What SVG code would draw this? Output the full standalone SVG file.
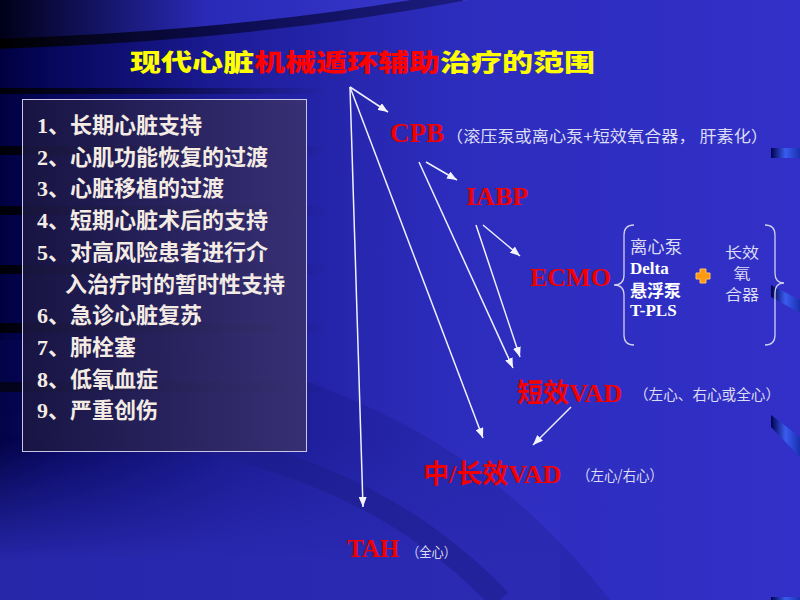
<svg xmlns="http://www.w3.org/2000/svg" width="800" height="600" viewBox="0 0 800 600">
<defs>
  <linearGradient id="bg" x1="0" y1="0" x2="800" y2="0" gradientUnits="userSpaceOnUse">
    <stop offset="0" stop-color="#000040"/>
    <stop offset="0.06" stop-color="#06065a"/>
    <stop offset="0.3" stop-color="#1e1e9c"/>
    <stop offset="0.55" stop-color="#2c2cbc"/>
    <stop offset="1" stop-color="#3230c8"/>
  </linearGradient>
  <linearGradient id="topg" x1="0" y1="0" x2="460" y2="0" gradientUnits="userSpaceOnUse">
    <stop offset="0" stop-color="#000018"/>
    <stop offset="0.45" stop-color="#2a2ab8"/>
    <stop offset="1" stop-color="#3838cc"/>
  </linearGradient>
  <linearGradient id="bandg" x1="0" y1="0" x2="460" y2="0" gradientUnits="userSpaceOnUse">
    <stop offset="0" stop-color="#000000"/>
    <stop offset="0.5" stop-color="#0c0c50"/>
    <stop offset="1" stop-color="#1c1c80"/>
  </linearGradient>
  <linearGradient id="stripeg" x1="0" y1="0" x2="330" y2="0" gradientUnits="userSpaceOnUse">
    <stop offset="0" stop-color="#000000" stop-opacity="0.85"/>
    <stop offset="1" stop-color="#000000" stop-opacity="0"/>
  </linearGradient>
  <linearGradient id="botg" x1="0" y1="440" x2="0" y2="560" gradientUnits="userSpaceOnUse">
    <stop offset="0" stop-color="#3030c4" stop-opacity="0"/>
    <stop offset="1" stop-color="#3030c4" stop-opacity="0.9"/>
  </linearGradient>
  <linearGradient id="bandb" x1="0" y1="0" x2="500" y2="0" gradientUnits="userSpaceOnUse">
    <stop offset="0" stop-color="#1c1c8a" stop-opacity="0"/>
    <stop offset="0.55" stop-color="#1c1c8a" stop-opacity="0.55"/>
    <stop offset="1" stop-color="#1c1c8a" stop-opacity="0.55"/>
  </linearGradient>
  <linearGradient id="boxg" x1="0" y1="0" x2="1" y2="0">
    <stop offset="0" stop-color="#1a1640"/>
    <stop offset="1" stop-color="#3a326e"/>
  </linearGradient>
  <linearGradient id="tabg" x1="0" y1="0" x2="1" y2="0">
    <stop offset="0" stop-color="#000050"/>
    <stop offset="0.5" stop-color="#3a5cf0"/>
    <stop offset="1" stop-color="#1a30b0"/>
  </linearGradient>
  <marker id="ah" markerUnits="userSpaceOnUse" markerWidth="11" markerHeight="8" refX="10" refY="4" orient="auto">
    <path d="M0,0 L10,4 L0,8 Z" fill="#f4f4ff"/>
  </marker>
  <style>
    .red{font-family:"Liberation Serif","Noto Sans CJK SC",serif;font-weight:bold;fill:#f20000}
    .note{font-family:"Noto Sans CJK SC",sans-serif;fill:#dcdcf4}
    .list{font-family:"Liberation Serif","Noto Sans CJK SC",serif;font-weight:bold;font-size:22px;fill:#f4ece4}
    .wb{font-family:"Liberation Serif","Noto Sans CJK SC",serif;font-weight:bold;font-size:17px;fill:#ffffff}
    .brace{fill:none;stroke:#d0d0ee;stroke-width:1.3}
    .conn line{stroke:#f0f0ff;stroke-width:1.5;marker-end:url(#ah)}
  </style>
</defs>

<g id="background">
  <rect x="0" y="0" width="800" height="600" fill="url(#bg)"/>
  <path d="M0,0 H470 Q260,30 0,40 Z" fill="url(#topg)"/>
  <path d="M-10,44 Q250,36 462,-4" fill="none" stroke="url(#bandg)" stroke-width="10"/>
  <g fill="url(#stripeg)">
    <rect x="0" y="88" width="330" height="6"/>
    <rect x="0" y="146" width="330" height="9"/>
    <rect x="0" y="206" width="330" height="9"/>
    <rect x="0" y="265" width="330" height="9"/>
    <rect x="0" y="323" width="330" height="10"/>
    <rect x="0" y="382" width="330" height="10"/>
  </g>
  <rect x="0" y="430" width="560" height="170" fill="url(#botg)"/>
  <path d="M0,340 Q400,330 610,600 L0,600 Z" fill="#10106a" fill-opacity="0.18"/>
  <path d="M0,425 Q330,420 500,600" fill="none" stroke="url(#bandb)" stroke-width="22"/>
  <rect x="771" y="148" width="29" height="10" fill="url(#tabg)"/>
  <polygon points="771,285 800,300 800,313 771,297" fill="url(#tabg)"/>
  <polygon points="771,415 800,437 800,457 771,427" fill="url(#tabg)"/>
  <rect x="771" y="597" width="29" height="3" fill="url(#tabg)"/>
</g>

<g id="title">
  <text x="130" y="71" textLength="465" lengthAdjust="spacingAndGlyphs" font-family="Noto Sans CJK SC, sans-serif" font-weight="900" font-size="24"><tspan fill="#ffff00">现代心脏</tspan><tspan fill="#ff0000">机械遁环辅助</tspan><tspan fill="#ffff00">治疗的范围</tspan></text>
</g>

<g id="indications">
  <rect x="22.5" y="99.5" width="284" height="352" fill="url(#boxg)" fill-opacity="0.88" stroke="#c8c8e6" stroke-width="1"/>
  <text class="list" x="37" y="133">1、长期心脏支持</text>
  <text class="list" x="37" y="165">2、心肌功能恢复的过渡</text>
  <text class="list" x="37" y="196">3、心脏移植的过渡</text>
  <text class="list" x="37" y="228">4、短期心脏术后的支持</text>
  <text class="list" x="37" y="260">5、对高风险患者进行介</text>
  <text class="list" x="65" y="292">入治疗时的暂时性支持</text>
  <text class="list" x="37" y="323">6、急诊心脏复苏</text>
  <text class="list" x="37" y="355">7、肺栓塞</text>
  <text class="list" x="37" y="387">8、低氧血症</text>
  <text class="list" x="37" y="418">9、严重创伤</text>
</g>

<g id="cpb">
  <text class="red" x="390" y="142" font-size="27">CPB</text>
  <text class="note" x="446" y="142" font-size="16" textLength="322" lengthAdjust="spacingAndGlyphs">（滚压泵或离心泵+短效氧合器， 肝素化）</text>
</g>

<g id="iabp">
  <text class="red" x="466" y="205" font-size="26">IABP</text>
</g>

<g id="ecmo">
  <text class="red" x="530" y="286" font-size="26">ECMO</text>
  <path class="brace" d="M634,225 Q624,225 624,235 V275 Q624,285 614,285 Q624,285 624,295 V335 Q624,345 634,345"/>
  <text class="note" x="630" y="253" font-size="16.5" textLength="52" lengthAdjust="spacingAndGlyphs">离心泵</text>
  <text class="wb" x="630" y="274">Delta</text>
  <text class="wb" x="630" y="297">悬浮泵</text>
  <text class="wb" x="630" y="316">T-PLS</text>
  <path d="M700,269 H706 V273 H710 V279 H706 V283 H700 V279 H696 V273 H700 Z" fill="#ff9a10" stroke="#ffc060" stroke-width="1" stroke-linejoin="round"/>
  <text class="note" x="725" y="258" font-size="14.4" textLength="34" lengthAdjust="spacingAndGlyphs">长效</text>
  <text class="note" x="733.5" y="279" font-size="14.4" textLength="17" lengthAdjust="spacingAndGlyphs">氧</text>
  <text class="note" x="725" y="300" font-size="14.4" textLength="34" lengthAdjust="spacingAndGlyphs">合器</text>
  <path class="brace" d="M765,225 Q775,225 775,235 V273 Q775,283 784,283 Q775,283 775,293 V335 Q775,345 765,345"/>
</g>

<g id="short-vad">
  <text class="red" x="517" y="402" font-size="26">短效VAD</text>
  <text class="note" x="634" y="400" font-size="14.5" textLength="146" lengthAdjust="spacingAndGlyphs">（左心、右心或全心）</text>
</g>

<g id="long-vad">
  <text class="red" x="423" y="483" font-size="26">中/长效VAD</text>
  <text class="note" x="577" y="481" font-size="15" textLength="86" lengthAdjust="spacingAndGlyphs">（左心/右心）</text>
</g>

<g id="tah">
  <text class="red" x="347" y="557" font-size="25">TAH</text>
  <text class="note" x="407" y="557" font-size="14" textLength="49" lengthAdjust="spacingAndGlyphs">（全心）</text>
</g>

<g id="connectors" class="conn">
  <line x1="350" y1="87" x2="388" y2="112"/>
  <line x1="350" y1="87" x2="363" y2="507"/>
  <line x1="350" y1="87" x2="483" y2="438"/>
  <line x1="426" y1="162" x2="457" y2="180"/>
  <line x1="419" y1="162" x2="513" y2="368"/>
  <line x1="483" y1="225" x2="520" y2="256"/>
  <line x1="476" y1="225" x2="520" y2="357"/>
  <line x1="571" y1="407" x2="533" y2="445"/>
</g>
</svg>
